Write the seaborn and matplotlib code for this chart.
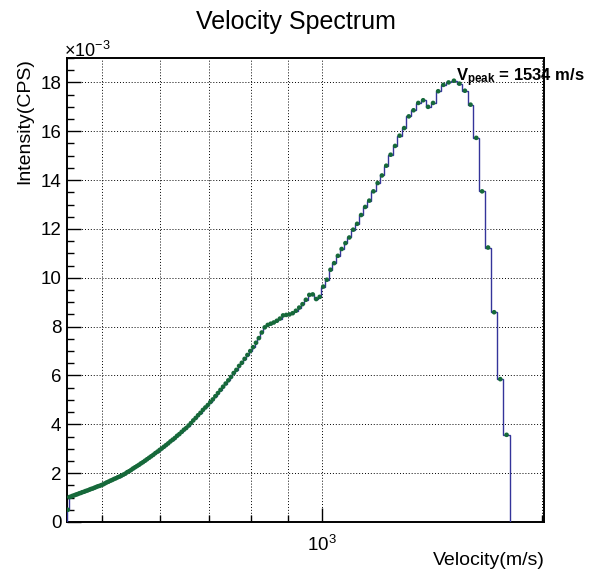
import numpy as np
import matplotlib
matplotlib.use("Agg")
import matplotlib.pyplot as plt
from matplotlib.ticker import FixedLocator, FuncFormatter, NullFormatter, MultipleLocator
import seaborn as sns

# ---------------- data ----------------
# histogram bins are uniform in time of flight (units: 1e-5 s/m), velocity = 1/tof
TOF_BIN_START = 55.28      # fastest edge  -> ~1809 m/s
TOF_BIN_WIDTH = 1.12
# intensity per bin in 1e-3 CPS, ordered by increasing velocity
intensity_mcps = [
    0.50, 1.02, 1.04, 1.07, 1.09, 1.12, 1.14, 1.17, 1.19, 1.22,
    1.24, 1.27, 1.29, 1.32, 1.35, 1.37, 1.40, 1.43, 1.46, 1.48,
    1.51, 1.54, 1.58, 1.62, 1.65, 1.69, 1.72, 1.76, 1.79, 1.83,
    1.86, 1.90, 1.94, 1.98, 2.04, 2.08, 2.13, 2.19, 2.24, 2.29,
    2.34, 2.40, 2.45, 2.51, 2.57, 2.63, 2.69, 2.75, 2.82, 2.88,
    2.95, 3.01, 3.08, 3.15, 3.22, 3.30, 3.37, 3.44, 3.53, 3.60,
    3.69, 3.78, 3.85, 3.95, 4.05, 4.16, 4.26, 4.37, 4.47, 4.59,
    4.69, 4.79, 4.91, 5.02, 5.15, 5.28, 5.41, 5.54, 5.67, 5.80,
    5.94, 6.10, 6.23, 6.39, 6.52, 6.68, 6.84, 7.00, 7.16, 7.34,
    7.53, 7.76, 7.97, 8.07, 8.12, 8.17, 8.24, 8.33, 8.46, 8.48,
    8.50, 8.55, 8.65, 8.78, 8.92, 9.10, 9.30, 9.32, 9.13, 9.22,
    9.64, 9.92, 10.33, 10.60, 10.90, 11.18, 11.42, 11.65, 11.97, 12.21,
    12.57, 12.90, 13.16, 13.54, 13.88, 14.19, 14.59, 15.04, 15.40, 15.82,
    16.13, 16.61, 16.86, 17.16, 17.27, 17.00, 17.16, 17.64, 17.90, 18.00,
    18.07, 17.95, 17.66, 17.09, 15.73, 13.54, 11.24, 8.59, 5.85, 3.57,
]
x_minor_ticks = [500, 600, 700, 800, 900, 2000]
x_major_ticks = [1000]
y_major_ticks_mcps = [0, 2, 4, 6, 8, 10, 12, 14, 16, 18]
title = "Velocity Spectrum"
x_label = "Velocity(m/s)"
y_label = "Intensity(CPS)"
peak_label = r"$\mathbf{V_{peak}}$ = 1534 m/s"

# ---------------- derived ----------------
n_bins = len(intensity_mcps)
tof_edges = TOF_BIN_START + TOF_BIN_WIDTH * np.arange(n_bins + 1)   # fastest first
v_edges = (1e5 / tof_edges)[::-1]                                   # increasing velocity
tof_centers = TOF_BIN_START + TOF_BIN_WIDTH * (np.arange(n_bins) + 0.5)
v_centers = (1e5 / tof_centers)[::-1]
intensity = np.array(intensity_mcps) * 1e-3

# ---------------- style ----------------
sns.set_theme(style="white")
plt.rcParams["font.family"] = ["Liberation Sans", "DejaVu Sans"]
plt.rcParams["mathtext.fontset"] = "custom"
plt.rcParams["mathtext.rm"] = "Liberation Sans"
plt.rcParams["mathtext.it"] = "Liberation Sans:italic"
plt.rcParams["mathtext.bf"] = "Liberation Sans:bold"

W, H = 592, 571
fig = plt.figure(figsize=(W / 100, H / 100), dpi=100)
fig.patch.set_facecolor("white")
L, R, T, B = 67, 544, 58, 522
ax = fig.add_axes([L / W, 1 - B / H, (R - L) / W, (B - T) / H])
ax.set_facecolor("white")

ax.set_xscale("log")
ax.set_xlim(448, 2015)
ax.set_ylim(0, 0.019)

# histogram line
ax.stairs(intensity, v_edges, color="#34349a", linewidth=1.0, baseline=0, zorder=3)
# markers at bin centres
sns.scatterplot(x=v_centers, y=intensity, ax=ax, s=11, color="#16693a",
                edgecolor="none", linewidth=0, zorder=4, legend=False)

# ticks
ax.xaxis.set_major_locator(FixedLocator(x_major_ticks))
ax.xaxis.set_minor_locator(FixedLocator(x_minor_ticks))
ax.xaxis.set_major_formatter(FuncFormatter(lambda v, p: r"$10^{3}$"))
ax.xaxis.set_minor_formatter(NullFormatter())
ax.yaxis.set_major_locator(FixedLocator([t * 1e-3 for t in y_major_ticks_mcps]))
ax.yaxis.set_minor_locator(MultipleLocator(0.0005))
ax.yaxis.set_major_formatter(FuncFormatter(lambda v, p: f"{v * 1e3:g}"))

ax.tick_params(axis="both", which="both", direction="in", color="black",
               top=False, right=False, bottom=True, left=True)
ax.tick_params(axis="both", which="major", length=10, width=1.0, labelsize=13.5,
               labelcolor="black")
ax.tick_params(axis="both", which="minor", length=5, width=1.0)
ax.tick_params(axis="y", which="major", pad=4)
ax.tick_params(axis="x", which="major", pad=9)

# grid
ax.grid(True, which="both", axis="x", color="black", linestyle=(0, (1, 2)), linewidth=0.7)
ax.grid(True, which="major", axis="y", color="black", linestyle=(0, (1, 2)), linewidth=0.7)
ax.set_axisbelow(True)

for s in ax.spines.values():
    s.set_color("black")
    s.set_linewidth(1.4)
    s.set_visible(True)

# texts
fig.text(296 / W, 1 - 29 / H, title, ha="center", va="baseline", fontsize=18, color="black")
fig.text(64 / W, 1 - 57 / H, r"$\times10^{-3}$", ha="left", va="baseline", fontsize=13, color="black")
fig.text(25 / W, 1 - T / H, y_label, rotation=90, ha="center", va="top", fontsize=14, color="black")
fig.text(545 / W, 1 - 565 / H, x_label, ha="right", va="baseline", fontsize=14, color="black")
fig.text(456 / W, 1 - 81 / H, peak_label, ha="left", va="baseline", fontsize=12,
         fontweight="bold", color="black")

fig.savefig("out.png", dpi=100, facecolor="white")
